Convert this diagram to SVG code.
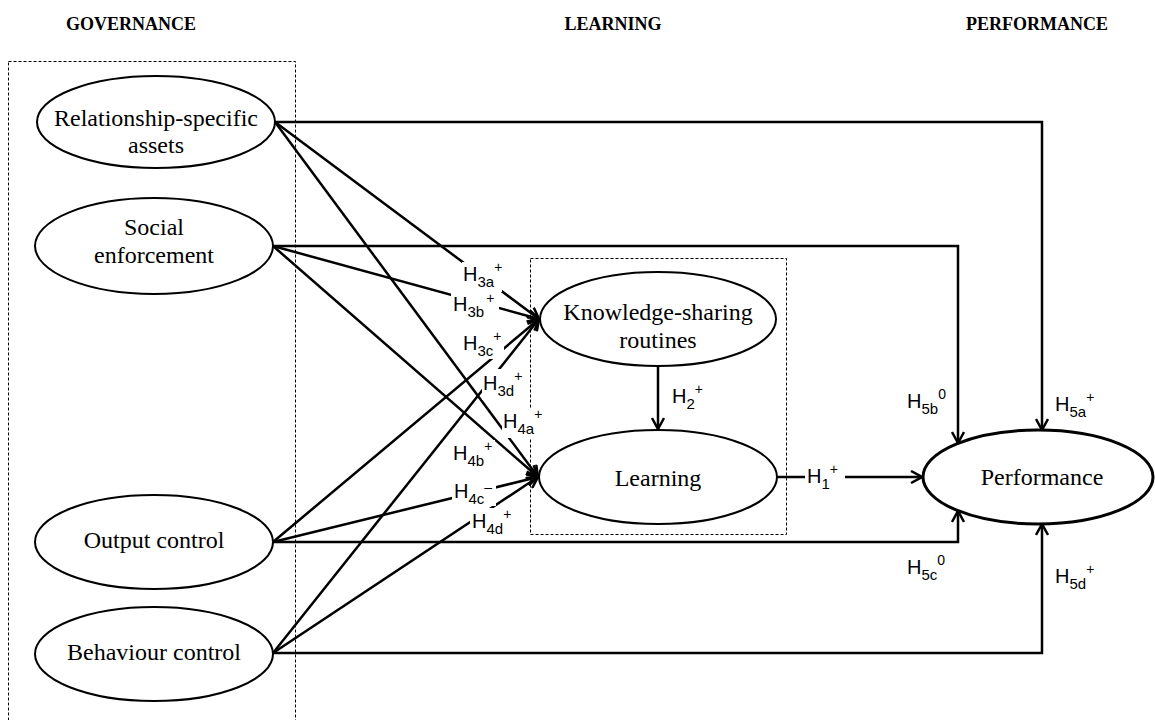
<svg xmlns="http://www.w3.org/2000/svg" width="1155" height="720" viewBox="0 0 1155 720">
<style>
.hdr{font-family:"Liberation Serif","Times New Roman",serif;font-weight:bold;font-size:18px;text-anchor:middle}
.nt{font-family:"Liberation Serif","Times New Roman",serif;font-size:24px;text-anchor:middle}
.el{fill:#fff;stroke:#000;stroke-width:2}
.box{fill:none;stroke:#000;stroke-width:1;stroke-dasharray:3,2}
.c{fill:none;stroke:#000;stroke-width:2.5}
.h{font-family:"Liberation Sans",Arial,sans-serif;font-size:20px}
.sub{font-size:15px}
.sup{font-size:14px}
.bg{fill:#fff}
</style>
<defs>
<marker id="arr" viewBox="0 0 14 14" refX="13" refY="7" markerWidth="14" markerHeight="14" markerUnits="userSpaceOnUse" orient="auto">
<path d="M2,1 L13,7 L2,13" fill="none" stroke="#000" stroke-width="2.5"/>
</marker>
</defs>
<rect width="1155" height="720" fill="#fff"/>
<g id="headers">
<text class="hdr" x="131" y="30">GOVERNANCE</text>
<text class="hdr" x="613" y="30">LEARNING</text>
<text class="hdr" x="1037" y="30">PERFORMANCE</text>
</g>
<rect id="governance-box" class="box" x="8.5" y="61.5" width="287" height="680"/>
<rect id="learning-box" class="box" x="530.5" y="258.5" width="256" height="276"/>
<g id="connectors">
<path class="c" d="M275,122 H1042 V430" marker-end="url(#arr)"/>
<path class="c" d="M273,246 H958 V443" marker-end="url(#arr)"/>
<path class="c" d="M273,542 H958 V511" marker-end="url(#arr)"/>
<path class="c" d="M273,653 H1042 V524" marker-end="url(#arr)"/>
<path class="c" d="M275,122 L539,319" marker-end="url(#arr)"/>
<path class="c" d="M273,246 L539,319" marker-end="url(#arr)"/>
<path class="c" d="M273,542 L539,319" marker-end="url(#arr)"/>
<path class="c" d="M273,653 L539,319" marker-end="url(#arr)"/>
<path class="c" d="M275,122 L538,477" marker-end="url(#arr)"/>
<path class="c" d="M273,246 L538,477" marker-end="url(#arr)"/>
<path class="c" d="M273,542 L538,477" marker-end="url(#arr)"/>
<path class="c" d="M273,653 L538,477" marker-end="url(#arr)"/>
<path class="c" d="M658,366 V429" marker-end="url(#arr)"/>
<path class="c" d="M777,477 H922" marker-end="url(#arr)"/>
</g>
<g id="labels">
<g id="lbl-h3a"><rect class="bg" x="462" y="262" width="40" height="30"/><text class="h" x="463" y="281">H<tspan class="sub" dy="6">3a</tspan><tspan class="sup" dy="-15">+</tspan></text></g>
<g id="lbl-h3b"><rect class="bg" x="451" y="293" width="48" height="28"/><text class="h" x="453" y="311">H<tspan class="sub" dy="6">3b</tspan><tspan class="sup" dx="2" dy="-14">+</tspan></text></g>
<g id="lbl-h3c"><rect class="bg" x="462" y="329" width="42" height="30"/><text class="h" x="463" y="350">H<tspan class="sub" dy="6">3c</tspan><tspan class="sup" dy="-15">+</tspan></text></g>
<g id="lbl-h3d"><rect class="bg" x="482" y="369" width="46" height="31"/><text class="h" x="483" y="390">H<tspan class="sub" dy="6">3d</tspan><tspan class="sup" dy="-15">+</tspan></text></g>
<g id="lbl-h4a"><rect class="bg" x="502" y="408" width="42" height="30"/><text class="h" x="503" y="428">H<tspan class="sub" dy="6">4a</tspan><tspan class="sup" dy="-15">+</tspan></text></g>
<g id="lbl-h4b"><rect class="bg" x="451" y="440" width="44" height="29"/><text class="h" x="453" y="460">H<tspan class="sub" dy="6">4b</tspan><tspan class="sup" dy="-15">+</tspan></text></g>
<g id="lbl-h4c"><rect class="bg" x="452" y="480" width="44" height="26"/><text class="h" x="454" y="498">H<tspan class="sub" dy="6">4c</tspan><tspan class="sup" dy="-12">–</tspan></text></g>
<g id="lbl-h4d"><rect class="bg" x="470" y="508" width="44" height="30"/><text class="h" x="472" y="528">H<tspan class="sub" dy="6">4d</tspan><tspan class="sup" dy="-15">+</tspan></text></g>
<g id="lbl-h2"><text class="h" x="672" y="403">H<tspan class="sub" dy="6">2</tspan><tspan class="sup" dy="-15">+</tspan></text></g>
<g id="lbl-h1"><rect class="bg" x="805" y="462" width="40" height="30"/><text class="h" x="807" y="483">H<tspan class="sub" dy="6">1</tspan><tspan class="sup" dy="-15">+</tspan></text></g>
<g id="lbl-h5a"><text class="h" x="1055" y="411">H<tspan class="sub" dy="6">5a</tspan><tspan class="sup" dy="-15">+</tspan></text></g>
<g id="lbl-h5b"><text class="h" x="907" y="408">H<tspan class="sub" dy="6">5b</tspan><tspan class="sup" dy="-15">0</tspan></text></g>
<g id="lbl-h5c"><text class="h" x="907" y="574">H<tspan class="sub" dy="6">5c</tspan><tspan class="sup" dy="-15">0</tspan></text></g>
<g id="lbl-h5d"><text class="h" x="1055" y="583">H<tspan class="sub" dy="6">5d</tspan><tspan class="sup" dy="-15">+</tspan></text></g>
</g>
<g id="node-rsa"><ellipse class="el" cx="156" cy="122" rx="119" ry="46"/><text class="nt" x="156" y="126">Relationship-specific</text><text class="nt" x="156" y="153">assets</text></g>
<g id="node-social"><ellipse class="el" cx="154" cy="246" rx="119" ry="48"/><text class="nt" x="154" y="235">Social</text><text class="nt" x="154" y="263">enforcement</text></g>
<g id="node-output"><ellipse class="el" cx="154" cy="542" rx="119" ry="47"/><text class="nt" x="154" y="548">Output control</text></g>
<g id="node-behaviour"><ellipse class="el" cx="154" cy="654" rx="119" ry="47"/><text class="nt" x="154" y="660">Behaviour control</text></g>
<g id="node-ksr"><ellipse class="el" cx="658" cy="319" rx="118" ry="47"/><text class="nt" x="658" y="320">Knowledge-sharing</text><text class="nt" x="658" y="348">routines</text></g>
<g id="node-learning"><ellipse class="el" cx="658" cy="477" rx="119" ry="47"/><text class="nt" x="658" y="486">Learning</text></g>
<g id="node-performance"><ellipse class="el" cx="1038" cy="477" rx="115" ry="47" style="stroke-width:3"/><text class="nt" x="1042" y="485">Performance</text></g>
</svg>
